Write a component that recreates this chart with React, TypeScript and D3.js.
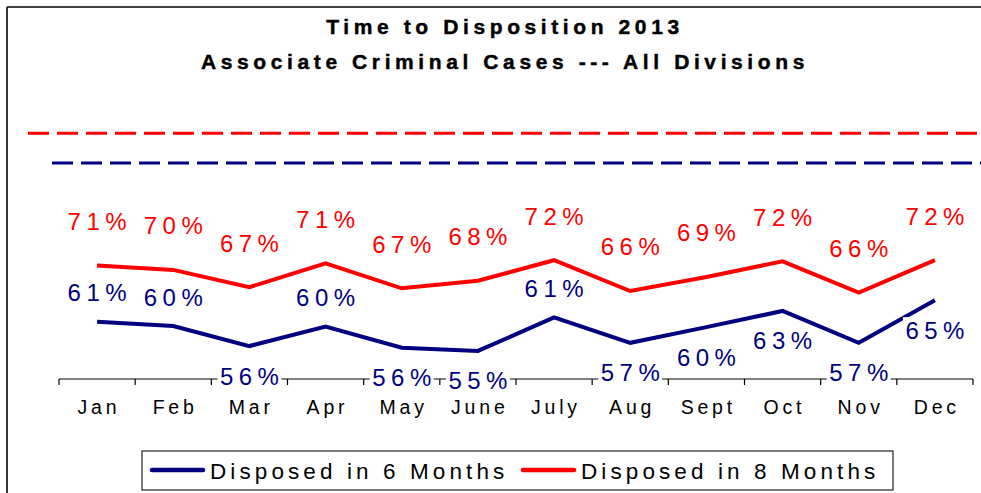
import React from 'react';
import * as d3 from 'd3';

// months on the x axis
const months = ['Jan', 'Feb', 'Mar', 'Apr', 'May', 'June', 'July', 'Aug', 'Sept', 'Oct', 'Nov', 'Dec'];
// share of cases disposed
const disposed6 = [0.606, 0.598, 0.561, 0.597, 0.558, 0.552, 0.614, 0.567, 0.596, 0.626, 0.567, 0.646];
const disposed8 = [0.71, 0.702, 0.67, 0.714, 0.668, 0.682, 0.72, 0.663, 0.689, 0.718, 0.66, 0.72];
// dashed goal lines
const goal6 = 0.9;
const goal8 = 0.955;
// where the 6-month label sits relative to its point
const blueLabelSide = ['above', 'above', 'below', 'above', 'below', 'below', 'above', 'below', 'below', 'below', 'below', 'below'];

const BLUE = '#000080';
const RED = '#ff0000';
const FONT = '"Liberation Sans", Arial, sans-serif';

const width = 981;
const height = 493;

const App = () => {
    const x = d3.scaleBand().domain(months).range([59, 973]).padding(0);
    const y = d3.scaleLinear().domain([0.5, 1.0]).range([379, 109]);
    const cx = m => x(m) + x.bandwidth() / 2;

    const line = d3.line()
        .x((d, i) => cx(months[i]))
        .y(d => y(d));

    const pct = d3.format('.0%');
    const ticks = [...months.map(m => x(m)), x.range()[1]];

    const labelFs = 24;
    const labelLs = 5.5;
    const boxW = 64;

    const labels = [
        ...disposed8.map((v, i) => ({ v, i, cy: y(v) - 44, color: RED })),
        ...disposed6.map((v, i) => ({
            v, i,
            cy: blueLabelSide[i] === 'above' ? y(v) - 29 : y(v) + 30,
            color: BLUE,
        })),
    ];

    return (
        <svg
            width={width}
            height={height}
            style={{ position: 'absolute', left: 0, top: 0, background: '#fff' }}
        >
            <rect x={0} y={0} width={width} height={height} fill="#fff" />
            {/* outer frame, only top and left edges fall inside the picture */}
            <line x1={7} x2={width} y1={7} y2={7} stroke="#000" strokeWidth={1.6} />
            <line x1={7} x2={7} y1={7} y2={height} stroke="#000" strokeWidth={1.6} />

            {/* title */}
            <g fontFamily={FONT} fontWeight="bold" fontSize={21} letterSpacing={4.6} textAnchor="middle"
                fill="#000" stroke="#000" strokeWidth={0.45}>
                <text x={505} y={33.5}>Time to Disposition 2013</text>
                <text x={505} y={69}>Associate Criminal Cases --- All Divisions</text>
            </g>

            {/* goal lines */}
            <line x1={28} x2={width} y1={y(goal8)} y2={y(goal8)} stroke={RED} strokeWidth={3} strokeDasharray="21 8" />
            <line x1={52} x2={width} y1={y(goal6)} y2={y(goal6)} stroke={BLUE} strokeWidth={3} strokeDasharray="21 8" />

            {/* x axis */}
            <line x1={x.range()[0]} x2={x.range()[1]} y1={379} y2={379} stroke="#000" strokeWidth={1.2} />
            {ticks.map((t, i) => (
                <line key={i} x1={t} x2={t} y1={379} y2={385} stroke="#000" strokeWidth={1.2} />
            ))}

            {/* series */}
            <path d={line(disposed8)} fill="none" stroke={RED} strokeWidth={4} />
            <path d={line(disposed6)} fill="none" stroke={BLUE} strokeWidth={4} />

            {/* data labels with white boxes */}
            {labels.map((d, k) => (
                <rect key={'b' + k} x={cx(months[d.i]) - boxW / 2} y={d.cy - 13} width={boxW} height={32} fill="#fff" />
            ))}
            {labels.map((d, k) => (
                <text
                    key={'t' + k}
                    x={cx(months[d.i]) + labelLs / 2}
                    y={d.cy + 8.5}
                    textAnchor="middle"
                    fontFamily={FONT}
                    fontSize={labelFs}
                    letterSpacing={labelLs}
                    fill={d.color}
                >
                    {pct(d.v)}
                </text>
            ))}

            <g fontFamily={FONT} fontSize={19.5} letterSpacing={3.8} textAnchor="middle" fill="#000">
                {months.map(m => (
                    <text key={m} x={cx(m) + 1.9} y={414}>{m}</text>
                ))}
            </g>

            {/* legend */}
            <g transform="translate(142,451)" fontFamily={FONT} fontSize={22.5} letterSpacing={4.1} fill="#000">
                <rect x={0} y={0} width={751} height={39} fill="#fff" stroke="#333" strokeWidth={1.3} />
                <line x1={10} x2={61} y1={19} y2={19} stroke={BLUE} strokeWidth={4.5} strokeLinecap="round" />
                <text x={68} y={28}>Disposed in 6 Months</text>
                <line x1={381} x2={432} y1={19} y2={19} stroke={RED} strokeWidth={4.5} strokeLinecap="round" />
                <text x={439} y={28}>Disposed in 8 Months</text>
            </g>
        </svg>
    );
};

export default App;
